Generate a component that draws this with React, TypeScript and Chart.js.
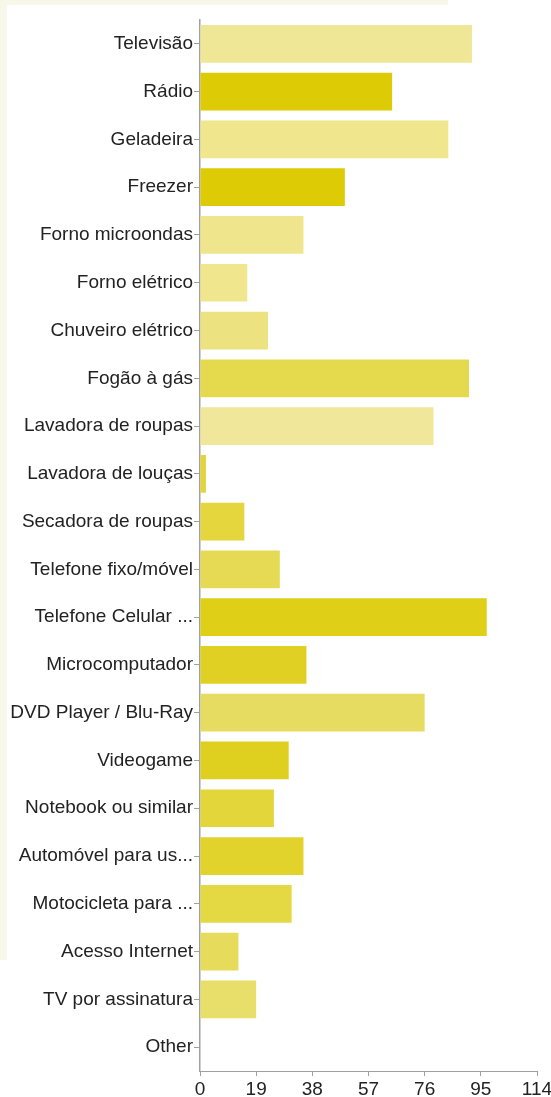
import React, { useEffect, useRef } from "react";
import { Chart, registerables } from "chart.js";

Chart.register(...registerables);

const categories = [
  "Televisão",
  "Rádio",
  "Geladeira",
  "Freezer",
  "Forno microondas",
  "Forno elétrico",
  "Chuveiro elétrico",
  "Fogão à gás",
  "Lavadora de roupas",
  "Lavadora de louças",
  "Secadora de roupas",
  "Telefone fixo/móvel",
  "Telefone Celular ...",
  "Microcomputador",
  "DVD Player / Blu-Ray",
  "Videogame",
  "Notebook ou similar",
  "Automóvel para us...",
  "Motocicleta para ...",
  "Acesso Internet",
  "TV por assinatura",
  "Other",
];

const values = [92, 65, 84, 49, 35, 16, 23, 91, 79, 2, 15, 27, 97, 36, 76, 30, 25, 35, 31, 13, 19, 0];

const barColors = [
  "#f0e796",
  "#ddcc05",
  "#efe68e",
  "#ddcc05",
  "#efe58c",
  "#efe68e",
  "#ede280",
  "#e5da4e",
  "#f0e79a",
  "#e3d43b",
  "#e4d63c",
  "#e6da55",
  "#dfcf17",
  "#e0d023",
  "#e7dc62",
  "#dfcf1e",
  "#e3d63a",
  "#e1d22c",
  "#e4d843",
  "#e6db5a",
  "#e8df6a",
  "#e8df6a",
];

const xTicks = [0, 19, 38, 57, 76, 95, 114];

export default function App() {
  const ref = useRef<HTMLCanvasElement | null>(null);

  useEffect(() => {
    document.body.style.margin = "0";
    const canvas = ref.current;
    if (!canvas) return;
    const font = { family: "'Liberation Sans', Arial, sans-serif", size: 19 };
    const chart = new Chart(canvas, {
      type: "bar",
      data: {
        labels: categories,
        datasets: [
          {
            data: values,
            backgroundColor: barColors,
            borderWidth: 0,
            categoryPercentage: 1,
            barPercentage: 0.79,
          },
        ],
      },
      options: {
        indexAxis: "y",
        animation: false,
        responsive: false,
        maintainAspectRatio: false,
        devicePixelRatio: 1,
        layout: { padding: { top: 20, right: 14, left: 0, bottom: 0 } },
        plugins: {
          legend: { display: false },
          tooltip: { enabled: false },
        },
        scales: {
          x: {
            type: "linear",
            min: xTicks[0],
            max: xTicks[xTicks.length - 1],
            afterFit: (scale: any) => {
              scale.height = 26;
              scale.paddingRight = 0;
              scale.paddingLeft = 0;
            },
            afterBuildTicks: (scale: any) => {
              scale.ticks = xTicks.map((v) => ({ value: v }));
            },
            ticks: {
              font,
              color: "#222",
              padding: 2,
              maxRotation: 0,
              autoSkip: false,
            },
            grid: {
              display: true,
              drawOnChartArea: false,
              drawTicks: true,
              tickLength: 5,
              color: "#a0a0a0",
            },
            border: { display: true, color: "#a0a0a0", width: 1 },
          },
          y: {
            type: "category",
            offset: true,
            afterFit: (scale: any) => {
              scale.width = 200;
            },
            ticks: {
              font,
              color: "#222",
              padding: 1,
              autoSkip: false,
            },
            grid: {
              display: true,
              offset: false,
              drawOnChartArea: false,
              drawTicks: true,
              tickLength: 6,
              color: "#a0a0a0",
            },
            border: { display: true, color: "#a0a0a0", width: 1.5 },
          },
        },
      },
    });
    return () => chart.destroy();
  }, []);

  return (
    <div style={{ position: "relative", width: 551, height: 1097, background: "#ffffff", overflow: "hidden" }}>
      <div style={{ position: "absolute", left: 0, top: 0, width: 448, height: 960, background: "#f7f8ea" }} />
      <div style={{ position: "absolute", left: 7, top: 5, width: 544, height: 1092, background: "#ffffff" }} />
      <canvas ref={ref} width={551} height={1097} style={{ position: "absolute", left: 0, top: 0, width: 551, height: 1097 }} />
    </div>
  );
}
